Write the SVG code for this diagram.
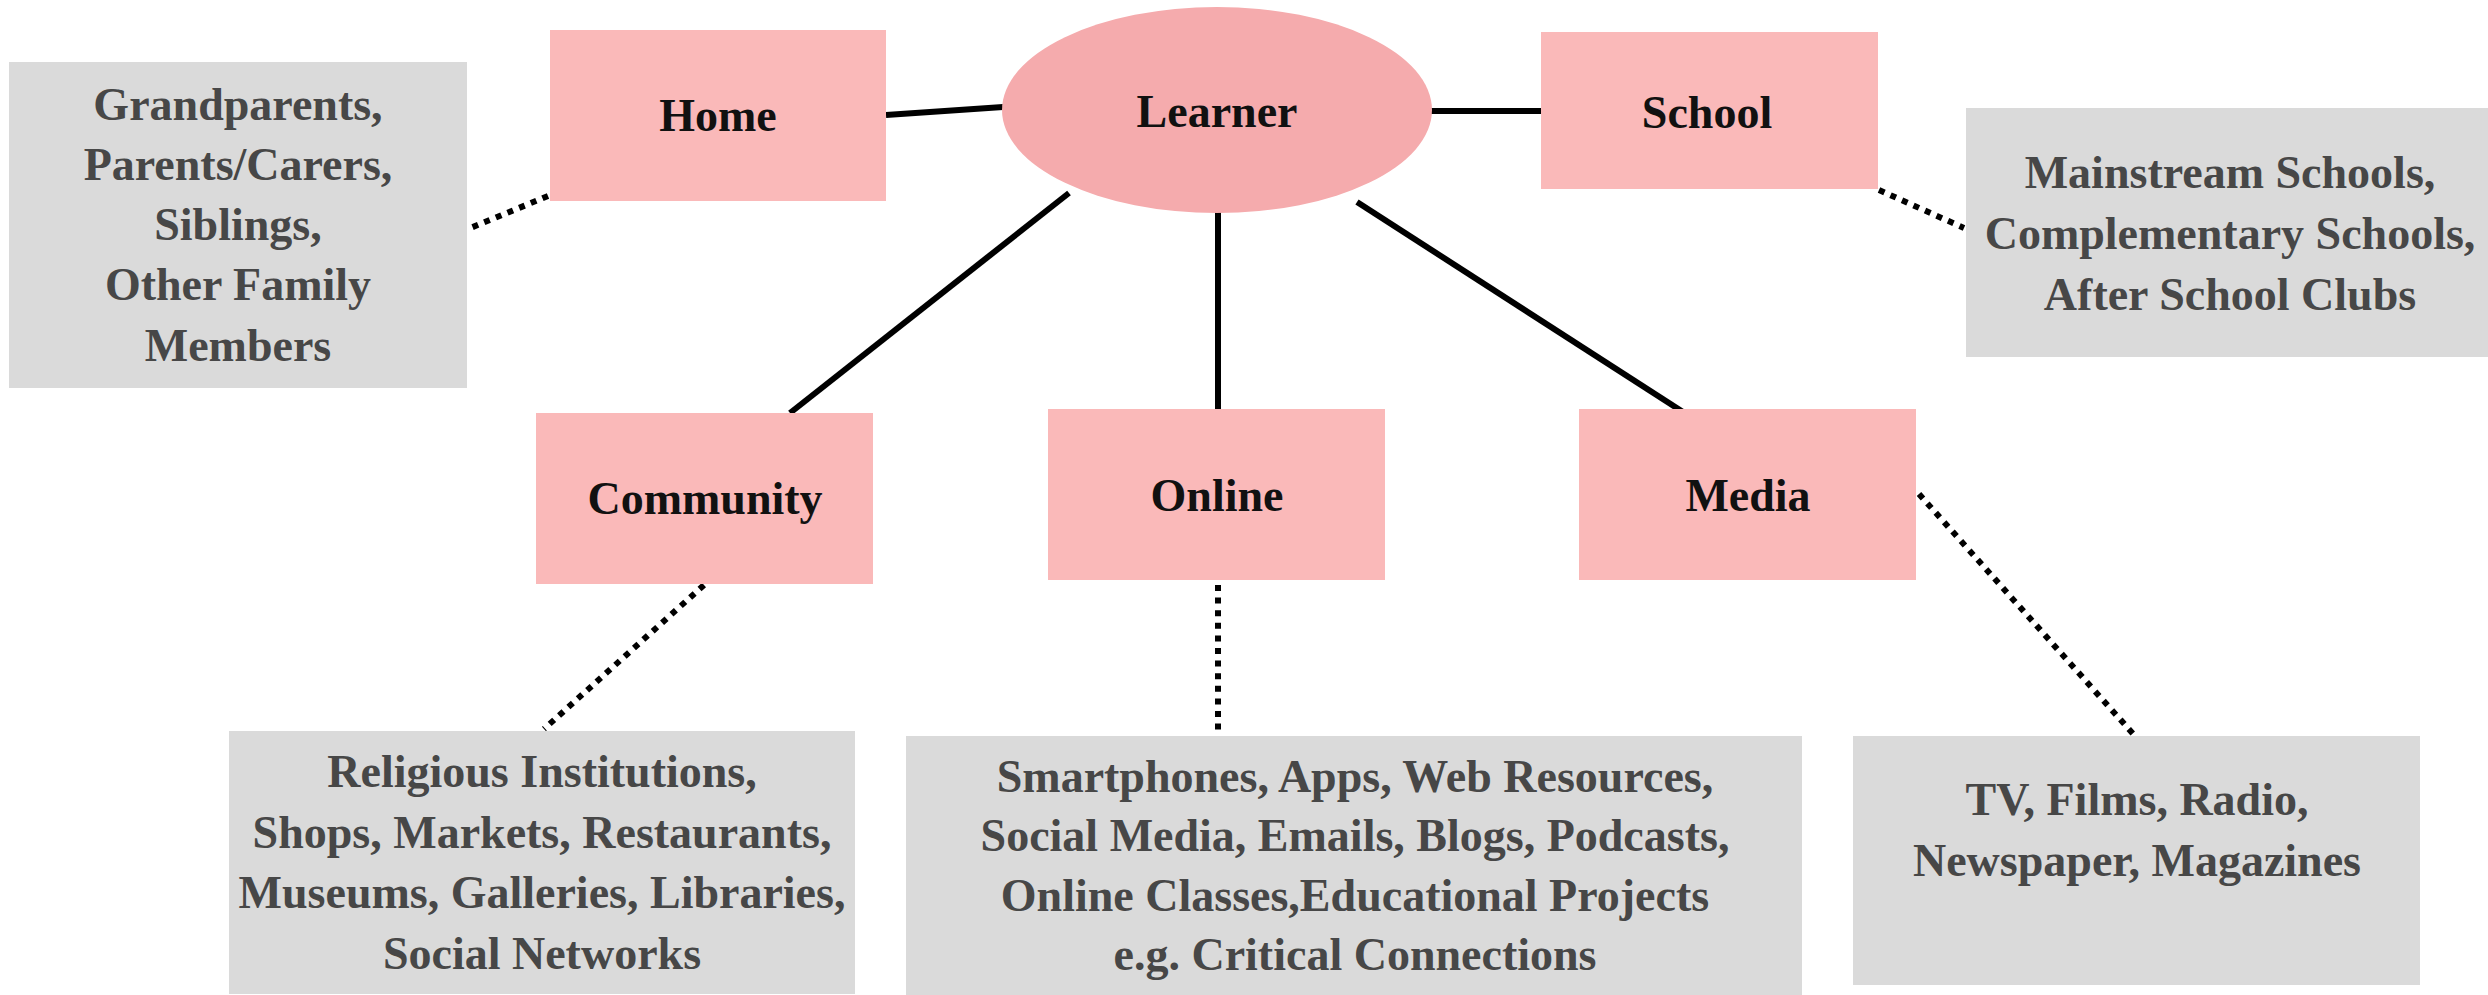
<svg xmlns="http://www.w3.org/2000/svg" width="2488" height="995" viewBox="0 0 2488 995">
  <style>
    .hub { fill: #f5abad; }
    .ctx { fill: #fab9b9; }
    .detail { fill: #dadada; }
    .label { font-family: "Liberation Serif", "Times New Roman", serif; font-weight: bold; font-size: 46px; fill: #111111; text-anchor: middle; }
    .items { font-family: "Liberation Serif", "Times New Roman", serif; font-weight: bold; font-size: 46px; fill: #474747; text-anchor: middle; }
    .link { stroke: #000000; stroke-width: 6; fill: none; }
    .dots { stroke: #000000; stroke-width: 6; fill: none; stroke-dasharray: 6 6.6; }
  </style>
  <rect x="0" y="0" width="2488" height="995" fill="#ffffff"/>

  <!-- connectors -->
  <g id="connectors">
    <line class="link" x1="886" y1="115" x2="1003" y2="107"/>
    <line class="link" x1="1431" y1="111" x2="1541" y2="111"/>
    <line class="link" x1="1069" y1="193" x2="790" y2="413"/>
    <line class="link" x1="1218" y1="212" x2="1218" y2="409"/>
    <line class="link" x1="1357" y1="202" x2="1683" y2="412"/>

    <line class="dots" x1="548" y1="196" x2="468" y2="229"/>
    <line class="dots" x1="1879" y1="190" x2="1964" y2="228"/>
    <line class="dots" x1="704" y1="585" x2="544" y2="729"/>
    <line class="dots" x1="1218" y1="585" x2="1218" y2="732"/>
    <line class="dots" x1="1919" y1="494" x2="2135" y2="736"/>
  </g>

  <!-- centre -->
  <g id="learner">
    <ellipse class="hub" cx="1217" cy="110" rx="215" ry="103"/>
    <text class="label" x="1217" y="127">Learner</text>
  </g>

  <!-- contexts -->
  <g id="home">
    <rect class="ctx" x="550" y="30" width="336" height="171"/>
    <text class="label" x="718" y="131">Home</text>
  </g>
  <g id="school">
    <rect class="ctx" x="1541" y="32" width="337" height="157"/>
    <text class="label" x="1707" y="128">School</text>
  </g>
  <g id="community">
    <rect class="ctx" x="536" y="413" width="337" height="171"/>
    <text class="label" x="705" y="514">Community</text>
  </g>
  <g id="online">
    <rect class="ctx" x="1048" y="409" width="337" height="171"/>
    <text class="label" x="1217" y="511">Online</text>
  </g>
  <g id="media">
    <rect class="ctx" x="1579" y="409" width="337" height="171"/>
    <text class="label" x="1748" y="511">Media</text>
  </g>

  <!-- detail boxes -->
  <g id="home-detail">
    <rect class="detail" x="9" y="62" width="458" height="326"/>
    <text class="items" x="238" y="120">Grandparents,</text>
    <text class="items" x="238" y="180">Parents/Carers,</text>
    <text class="items" x="238" y="240">Siblings,</text>
    <text class="items" x="238" y="300">Other Family</text>
    <text class="items" x="238" y="361">Members</text>
  </g>
  <g id="school-detail">
    <rect class="detail" x="1966" y="108" width="522" height="249"/>
    <text class="items" x="2230" y="188">Mainstream Schools,</text>
    <text class="items" x="2230" y="249">Complementary Schools,</text>
    <text class="items" x="2230" y="310">After School Clubs</text>
  </g>
  <g id="community-detail">
    <rect class="detail" x="229" y="731" width="626" height="263"/>
    <text class="items" x="542" y="787">Religious Institutions,</text>
    <text class="items" x="542" y="848">Shops, Markets, Restaurants,</text>
    <text class="items" x="542" y="908">Museums, Galleries, Libraries,</text>
    <text class="items" x="542" y="969">Social Networks</text>
  </g>
  <g id="online-detail">
    <rect class="detail" x="906" y="736" width="896" height="259"/>
    <text class="items" x="1355" y="792">Smartphones, Apps, Web Resources,</text>
    <text class="items" x="1355" y="851">Social Media, Emails, Blogs, Podcasts,</text>
    <text class="items" x="1355" y="911">Online Classes,Educational Projects</text>
    <text class="items" x="1355" y="970">e.g. Critical Connections</text>
  </g>
  <g id="media-detail">
    <rect class="detail" x="1853" y="736" width="567" height="249"/>
    <text class="items" x="2137" y="815">TV, Films, Radio,</text>
    <text class="items" x="2137" y="876">Newspaper, Magazines</text>
  </g>
</svg>
